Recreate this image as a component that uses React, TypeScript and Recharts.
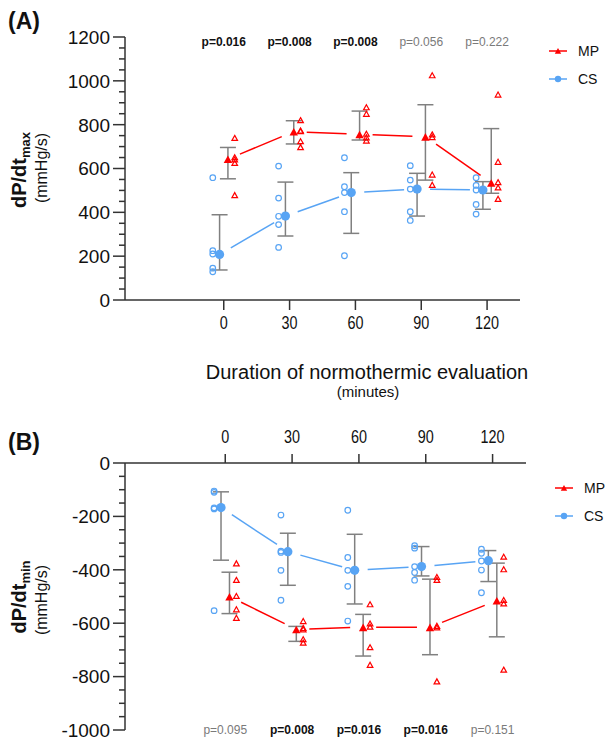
import React from "react";
import {
  ComposedChart,
  Scatter,
  XAxis,
  YAxis,
  ErrorBar,
  ReferenceLine,
  ReferenceDot,
  Legend,
} from "recharts";

// time points (minutes)
const TIMES = [0, 30, 60, 90, 120];

// (A) dP/dt max
const MAX_CS_MEDIAN = [208, 383, 490, 506, 502];
const MAX_CS_LOW = [137, 292, 304, 383, 414];
const MAX_CS_HIGH = [389, 538, 581, 578, 540];
const MAX_CS_POINTS = [
  [558, 225, 210, 145, 129],
  [611, 465, 382, 344, 240],
  [649, 517, 490, 403, 202],
  [613, 547, 506, 403, 363],
  [558, 523, 502, 436, 392],
];
const MAX_MP_MEDIAN = [643, 768, 756, 745, 535];
const MAX_MP_LOW = [553, 712, 730, 547, 487];
const MAX_MP_HIGH = [696, 818, 862, 891, 782];
const MAX_MP_POINTS = [
  [737, 649, 639, 623, 476],
  [818, 771, 768, 722, 695],
  [877, 847, 756, 740, 725],
  [1023, 753, 741, 570, 523],
  [935, 628, 535, 511, 459],
];
const MAX_P = ["p=0.016", "p=0.008", "p=0.008", "p=0.056", "p=0.222"];
const MAX_P_SIG = [true, true, true, false, false];
const MAX_Y_TICKS = [
  0, 50, 100, 150, 200, 250, 300, 350, 400, 450, 500, 550, 600, 650, 700, 750,
  800, 850, 900, 950, 1000, 1050, 1100, 1150, 1200,
];

// (B) dP/dt min
const MIN_CS_MEDIAN = [-167, -332, -402, -388, -366];
const MIN_CS_LOW = [-364, -458, -528, -423, -444];
const MIN_CS_HIGH = [-108, -263, -267, -313, -328];
const MIN_CS_POINTS = [
  [-105, -110, -168, -172, -553],
  [-195, -330, -335, -402, -514],
  [-177, -354, -402, -462, -592],
  [-310, -319, -388, -410, -439],
  [-323, -338, -367, -401, -486],
];
const MIN_MP_MEDIAN = [-500, -623, -615, -615, -515];
const MIN_MP_LOW = [-564, -668, -723, -718, -651];
const MIN_MP_HIGH = [-409, -612, -567, -435, -375];
const MIN_MP_POINTS = [
  [-378, -440, -500, -550, -582],
  [-594, -620, -625, -662, -675],
  [-531, -603, -615, -692, -758],
  [-429, -440, -612, -618, -820],
  [-353, -400, -515, -528, -776],
];
const MIN_P = ["p=0.095", "p=0.008", "p=0.016", "p=0.016", "p=0.151"];
const MIN_P_SIG = [false, true, true, true, false];
const MIN_Y_TICKS = [
  -1000, -950, -900, -850, -800, -750, -700, -650, -600, -550, -500, -450,
  -400, -350, -300, -250, -200, -150, -100, -50, 0,
];

const FONT = '"Liberation Sans", Arial, Helvetica, sans-serif';
const AXIS = "#333";
const RED = "#ff0000";
const BLUE = "#58a4f4";
const BAR = "#808080";
const X_DOMAIN: [number, number] = [-45, 135];
const IND_OFF = 5;
const MED_OFF = 1.9;
const W = 606;
const Y_AXIS_W = 125;

const tri = (cx: number, cy: number, s: number) =>
  `M${cx},${cy - s * 1.1}L${cx + s},${cy + s * 0.7}L${cx - s},${cy + s * 0.7}Z`;

const OpenCircle = (p: any) => (
  <circle cx={p.cx} cy={p.cy} r={2.8} fill="none" stroke={BLUE} strokeWidth={1.2} />
);
const OpenTri = (p: any) => (
  <path d={tri(p.cx, p.cy, 2.8)} fill="none" stroke={RED} strokeWidth={1.2} />
);
const FillCircle = (p: any) => <circle cx={p.cx} cy={p.cy} r={4.6} fill={BLUE} />;
const FillTri = (p: any) => <path d={tri(p.cx, p.cy + 1, 4.2)} fill={RED} />;

const points = (pts: number[][], off: number) =>
  pts.flatMap((col, i) => col.map((v) => ({ x: TIMES[i] + off, y: v })));

const medians = (med: number[], lo: number[], hi: number[], off: number) =>
  med.map((m, i) => ({ x: TIMES[i] + off, y: m, err: [m - lo[i], hi[i] - m] }));

// segments between medians, shortened by a pixel gap at both ends
const gapSegments = (med: number[], off: number, kx: number, ky: number, gap: number) => {
  const segs: { x: number; y: number }[][] = [];
  for (let i = 0; i < med.length - 1; i++) {
    const x1 = TIMES[i] + off;
    const x2 = TIMES[i + 1] + off;
    const y1 = med[i];
    const y2 = med[i + 1];
    const len = Math.hypot((x2 - x1) * kx, (y2 - y1) * ky);
    const t = gap / len;
    segs.push([
      { x: x1 + (x2 - x1) * t, y: y1 + (y2 - y1) * t },
      { x: x2 - (x2 - x1) * t, y: y2 - (y2 - y1) * t },
    ]);
  }
  return segs;
};

const YTick = (props: any) => {
  const { x, y, payload } = props;
  const major = payload.value % 200 === 0;
  return (
    <g>
      <line x1={x} x2={x - (major ? 12 : 6)} y1={y} y2={y} stroke={AXIS} strokeWidth={1.5} />
      {major && (
        <text x={x - 15} y={y} dy="0.36em" textAnchor="end" fontSize={19} fill="#111" fontFamily={FONT}>
          {payload.value}
        </text>
      )}
    </g>
  );
};

const makeXTick = (dir: 1 | -1, tickLen: number, labelOff: number) => (props: any) => {
  const { x, y, payload } = props;
  return (
    <g>
      <line x1={x} x2={x} y1={y} y2={y + dir * tickLen} stroke={AXIS} strokeWidth={1.5} />
      <text
        transform={`translate(${x},${y + dir * labelOff}) scale(0.8,1)`}
        dy="0.36em"
        textAnchor="middle"
        fontSize={18}
        fill="#111"
        fontFamily={FONT}
      >
        {payload.value}
      </text>
    </g>
  );
};

const LegendBox = () => (
  <svg width={60} height={46} style={{ display: "block" }}>
    {[
      { name: "MP", color: RED, tri: true },
      { name: "CS", color: BLUE, tri: false },
    ].map((it, i) => (
      <g key={it.name} transform={`translate(0, ${8 + i * 28})`}>
        <line x1={0} x2={18} y1={0} y2={0} stroke={it.color} strokeWidth={1.5} />
        {it.tri ? (
          <path d={tri(9, 0.5, 3.2)} fill={it.color} />
        ) : (
          <circle cx={9} cy={0} r={3.2} fill={it.color} />
        )}
        <text x={29} y={0} dy="0.36em" fontSize={14} fill="#111" fontFamily={FONT}>
          {it.name}
        </text>
      </g>
    ))}
  </svg>
);

type PanelProps = {
  top: number;
  height: number;
  margin: { top: number; right: number; bottom: number; left: number };
  xOrientation: "top" | "bottom";
  xAxisHeight: number;
  yDomain: [number, number];
  yTicks: number[];
  pY: number;
  pDy: number;
  pLabels: string[];
  pSig: boolean[];
  cs: { med: number[]; lo: number[]; hi: number[]; pts: number[][] };
  mp: { med: number[]; lo: number[]; hi: number[]; pts: number[][] };
  legendPos: { left: number; top: number };
};

function Panel(p: PanelProps) {
  const plotW = W - p.margin.left - p.margin.right - Y_AXIS_W;
  const plotH = p.height - p.margin.top - p.margin.bottom - p.xAxisHeight;
  const kx = plotW / (X_DOMAIN[1] - X_DOMAIN[0]);
  const ky = plotH / (p.yDomain[1] - p.yDomain[0]);
  const csSegs = gapSegments(p.cs.med, -MED_OFF, kx, ky, 13);
  const mpSegs = gapSegments(p.mp.med, MED_OFF, kx, ky, 13);
  const xTick =
    p.xOrientation === "bottom" ? makeXTick(1, 10, 23) : makeXTick(-1, 9, 26);

  return (
    <div style={{ position: "absolute", left: 0, top: p.top }}>
      <ComposedChart width={W} height={p.height} margin={p.margin}>
        <XAxis
          type="number"
          dataKey="x"
          orientation={p.xOrientation}
          height={p.xAxisHeight}
          domain={X_DOMAIN}
          allowDataOverflow
          ticks={TIMES}
          interval={0}
          tickLine={false}
          tickSize={0}
          tickMargin={0}
          tick={xTick}
          axisLine={{ stroke: AXIS, strokeWidth: 1.5 }}
        />
        <YAxis
          type="number"
          dataKey="y"
          width={Y_AXIS_W}
          domain={p.yDomain}
          allowDataOverflow
          ticks={p.yTicks}
          interval={0}
          tickLine={false}
          tickSize={0}
          tickMargin={0}
          tick={YTick}
          axisLine={{ stroke: AXIS, strokeWidth: 1.5 }}
        />
        {csSegs.map((s, i) => (
          <ReferenceLine key={`cs${i}`} segment={s} stroke={BLUE} strokeWidth={1.5} />
        ))}
        {mpSegs.map((s, i) => (
          <ReferenceLine key={`mp${i}`} segment={s} stroke={RED} strokeWidth={1.5} />
        ))}
        <Scatter
          name="CS points"
          data={points(p.cs.pts, -IND_OFF)}
          shape={OpenCircle}
          isAnimationActive={false}
          legendType="none"
        />
        <Scatter
          name="MP points"
          data={points(p.mp.pts, IND_OFF)}
          shape={OpenTri}
          isAnimationActive={false}
          legendType="none"
        />
        <Scatter
          name="CS"
          data={medians(p.cs.med, p.cs.lo, p.cs.hi, -MED_OFF)}
          shape={FillCircle}
          isAnimationActive={false}
        >
          <ErrorBar dataKey="err" direction="y" width={8} stroke={BAR} strokeWidth={1.5} isAnimationActive={false} />
        </Scatter>
        <Scatter
          name="MP"
          data={medians(p.mp.med, p.mp.lo, p.mp.hi, MED_OFF)}
          shape={FillTri}
          isAnimationActive={false}
        >
          <ErrorBar dataKey="err" direction="y" width={8} stroke={BAR} strokeWidth={1.5} isAnimationActive={false} />
        </Scatter>
        {p.pLabels.map((lab, i) => (
          <ReferenceDot
            key={`p${i}`}
            x={TIMES[i]}
            y={p.pY}
            r={0}
            ifOverflow="visible"
            shape={(sp: any) => (
              <text
                x={sp.cx}
                y={sp.cy + p.pDy}
                textAnchor="middle"
                fontSize={12}
                fontWeight={p.pSig[i] ? "bold" : "normal"}
                fill={p.pSig[i] ? "#111" : "#7a7a7a"}
                fontFamily={FONT}
              >
                {lab}
              </text>
            )}
          />
        ))}
        <Legend
          layout="horizontal"
          align="center"
          verticalAlign="middle"
          wrapperStyle={{ left: p.legendPos.left, top: p.legendPos.top, width: 60 }}
          content={() => <LegendBox />}
        />
      </ComposedChart>
    </div>
  );
}

export default function App() {
  return (
    <div
      style={{
        position: "absolute",
        left: 0,
        top: 0,
        width: W,
        height: 740,
        background: "#fff",
        fontFamily: FONT,
      }}
    >
      <Panel
        top={0}
        height={360}
        margin={{ top: 37, right: 86, bottom: 0, left: 0 }}
        xOrientation="bottom"
        xAxisHeight={60}
        yDomain={[0, 1200]}
        yTicks={MAX_Y_TICKS}
        pY={1200}
        pDy={9}
        pLabels={MAX_P}
        pSig={MAX_P_SIG}
        cs={{ med: MAX_CS_MEDIAN, lo: MAX_CS_LOW, hi: MAX_CS_HIGH, pts: MAX_CS_POINTS }}
        mp={{ med: MAX_MP_MEDIAN, lo: MAX_MP_LOW, hi: MAX_MP_HIGH, pts: MAX_MP_POINTS }}
        legendPos={{ left: 549, top: 43 }}
      />
      <Panel
        top={400}
        height={340}
        margin={{ top: 23, right: 80, bottom: 10, left: 0 }}
        xOrientation="top"
        xAxisHeight={40}
        yDomain={[-1000, 0]}
        yTicks={MIN_Y_TICKS}
        pY={-1000}
        pDy={4}
        pLabels={MIN_P}
        pSig={MIN_P_SIG}
        cs={{ med: MIN_CS_MEDIAN, lo: MIN_CS_LOW, hi: MIN_CS_HIGH, pts: MIN_CS_POINTS }}
        mp={{ med: MIN_MP_MEDIAN, lo: MIN_MP_LOW, hi: MIN_MP_HIGH, pts: MIN_MP_POINTS }}
        legendPos={{ left: 555, top: 80 }}
      />
      <svg
        width={W}
        height={740}
        style={{ position: "absolute", left: 0, top: 0, pointerEvents: "none" }}
        fontFamily={FONT}
      >
        <text x={8} y={29} fontSize={23} fontWeight="bold" fill="#111">(A)</text>
        <text x={8} y={450} fontSize={23} fontWeight="bold" fill="#111">(B)</text>
        <text transform="translate(26,170) rotate(-90)" textAnchor="middle" fontSize={20} fontWeight="bold" fill="#111">
          dP/dt<tspan fontSize={13} dy={4}>max</tspan>
        </text>
        <text transform="translate(47,168) rotate(-90)" textAnchor="middle" fontSize={16} fill="#111">
          (mmHg/s)
        </text>
        <text transform="translate(26,597) rotate(-90)" textAnchor="middle" fontSize={20} fontWeight="bold" fill="#111">
          dP/dt<tspan fontSize={13} dy={4}>min</tspan>
        </text>
        <text transform="translate(47,600) rotate(-90)" textAnchor="middle" fontSize={16} fill="#111">
          (mmHg/s)
        </text>
        <text x={367} y={379} textAnchor="middle" fontSize={20} fill="#111">
          Duration of normothermic evaluation
        </text>
        <text x={368} y={397} textAnchor="middle" fontSize={15} fill="#111">
          (minutes)
        </text>
      </svg>
    </div>
  );
}
